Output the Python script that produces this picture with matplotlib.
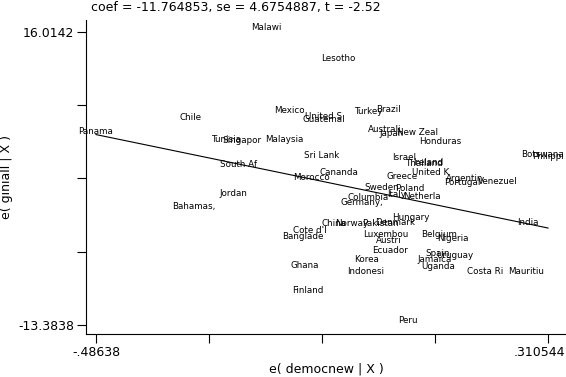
import matplotlib
matplotlib.use("Agg")
import matplotlib.pyplot as plt
from matplotlib.transforms import ScaledTranslation

# added-variable plot: residuals of giniall vs residuals of democnew
coef = -11.764853
se = 4.6754887
tstat = -2.52

countries = ["Malawi", "Lesotho", "Mexico", "United S", "Guatemal", "Turkey", "Brazil",
             "Australi", "Japan", "New Zeal", "Honduras", "Chile", "Panama", "Tunisia",
             "Singapor", "Malaysia", "Sri Lank", "Israel", "Thailand", "Ireland", "South Af",
             "Cananda", "United K", "Greece", "Morocco", "Argentin", "Portugal", "Venezuel",
             "Sweden", "Poland", "Jordan", "Italy", "Netherla", "Columbia", "Germany,",
             "Bahamas,", "Hungary", "India", "Denmark", "China", "Norway", "Pakistan",
             "Cote d'I", "Banglade", "Luxembou", "Austri", "Belgium", "Nigeria", "Ecuador",
             "Spain", "Uruguay", "Jamaica", "Korea", "Uganda", "Ghana", "Indonesi",
             "Costa Ri", "Mauritiu", "Finland", "Peru", "Botswana", "Philippi"]

e_democ = [-0.1867, -0.0597, -0.1461, -0.0844, -0.0844, -0.0068, 0.0285,
           0.0232, 0.0355, 0.0796, 0.1201, -0.3189, -0.48638, -0.2572,
           -0.2290, -0.1549, -0.0879, 0.0567, 0.0919, 0.0990, -0.2343,
           -0.0580, 0.1043, 0.0531, -0.1073, 0.1642, 0.1589, 0.2224,
           0.0179, 0.0672, -0.2448, 0.0443, 0.0884, -0.0068, -0.0174,
           -0.3136, 0.0690, 0.2753, 0.0408, -0.0668, -0.0350, 0.0143,
           -0.1091, -0.1214, 0.0249, 0.0302, 0.1184, 0.1430, 0.0320,
           0.1166, 0.1466, 0.1113, -0.0086, 0.1166, -0.1179, -0.0103,
           0.1995, 0.2718, -0.1126, 0.0637, 0.3000, 0.310544]

e_gini = [16.0142, 12.904, 7.687, 7.085, 6.784, 7.586, 7.787,
          5.780, 5.379, 5.479, 4.576, 6.984, 5.579, 4.777,
          4.68, 4.777, 3.171, 2.971, 2.369, 2.47, 2.268,
          1.466, 1.466, 1.065, 0.964, 0.864, 0.462, 0.563,
          -0.039, -0.140, -0.641, -0.741, -0.942, -1.043, -1.544,
          -1.946, -3.049, -3.551, -3.551, -3.651, -3.651, -3.651,
          -4.354, -4.956, -4.755, -5.357, -4.755, -5.156, -6.360,
          -6.661, -6.862, -7.263, -7.263, -7.966, -7.865, -8.467,
          -8.467, -8.467, -10.374, -13.3838, 3.272, 3.071]

plt.rcParams["font.family"] = "DejaVu Sans"

fig = plt.figure(figsize=(5.66, 3.77), dpi=100)
ax = fig.add_axes([86 / 566, 43 / 377, 1 - 86 / 566, 314 / 377])

for name, x, y in zip(countries, e_democ, e_gini):
    ax.annotate(name, (x, y), xytext=(0, 3), textcoords="offset points",
                ha="center", va="center", fontsize=6.3, color="black")

xmin, xmax = min(e_democ), max(e_democ)
ax.plot([xmin, xmax], [coef * xmin, coef * xmax], color="black", lw=0.8)

ymin, ymax = min(e_gini), max(e_gini)
ax.set_xlim(-0.50401, 0.34228)
ax.set_ylim(-14.287, 17.218)

xt = [xmin + i * (xmax - xmin) / 4 for i in range(5)]
yt = [ymin + i * (ymax - ymin) / 4 for i in range(5)]
ax.set_xticks(xt)
ax.set_xticklabels(["-.48638", "", "", "", ".310544"])
ax.set_yticks(yt)
ax.set_yticklabels(["-13.3838", "", "", "", "16.0142"])
ax.tick_params(length=6.5, width=0.8, labelsize=9, pad=2)

lbl = ax.get_xticklabels()[-1]
lbl.set_horizontalalignment("right")
lbl.set_transform(lbl.get_transform() + ScaledTranslation(17 / 100, 0, fig.dpi_scale_trans))

for s in ["top", "right"]:
    ax.spines[s].set_visible(False)
for s in ["left", "bottom"]:
    ax.spines[s].set_linewidth(0.8)

ax.set_xlabel("e( democnew | X )", fontsize=9, labelpad=3)
ax.set_ylabel("e( giniall | X )", fontsize=9, labelpad=4)
fig.text(236 / 566, 1 - 8 / 377, f"coef = {coef}, se = {se}, t = {tstat}",
         ha="center", va="center", fontsize=9)

fig.savefig("out.png", dpi=100)
